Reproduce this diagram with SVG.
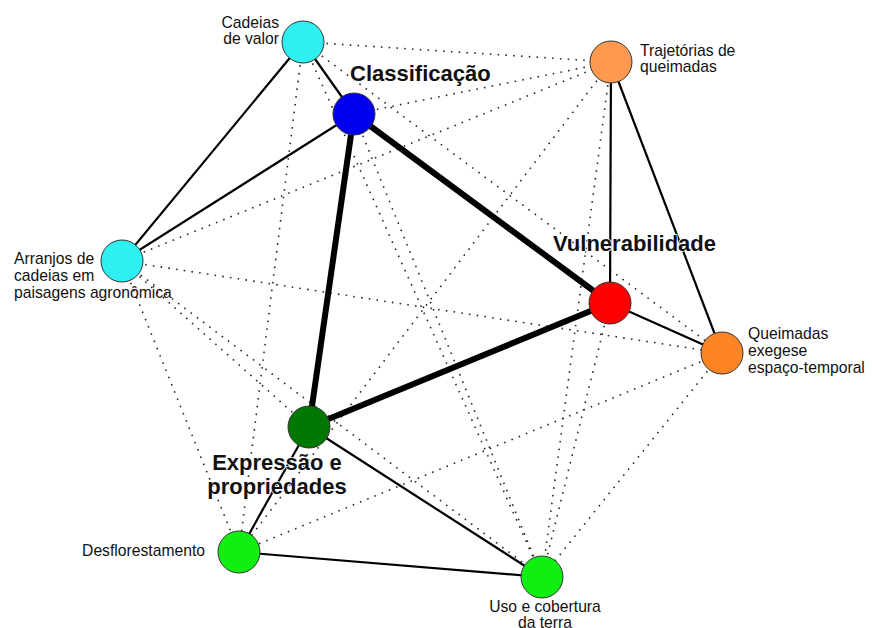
<svg xmlns="http://www.w3.org/2000/svg" width="872" height="628" viewBox="0 0 872 628">
<style>
.bg{fill:#ffffff}
.dot{stroke:#2a2a2a;stroke-width:1.6;stroke-dasharray:1.6 6.2;fill:none}
.thin{stroke:#000000;stroke-width:2.2;fill:none}
.thick{stroke:#000000;stroke-width:6;fill:none}
.node{stroke:#333333;stroke-width:1}
.lbl{font-family:"Liberation Sans",Arial,sans-serif;font-size:15.7px;fill:#111111}
.big{font-family:"Liberation Sans",Arial,sans-serif;font-size:22px;font-weight:bold;fill:#111111;stroke:#ffffff;stroke-width:1.5;paint-order:stroke;stroke-linejoin:round}
</style>
<rect class="bg" x="0" y="0" width="872" height="628"/>
<g id="connectors">
  <line class="dot" x1="303" y1="42" x2="611" y2="62"/>
  <line class="dot" x1="303" y1="42" x2="722" y2="353"/>
  <line class="dot" x1="303" y1="42" x2="542" y2="577"/>
  <line class="dot" x1="303" y1="42" x2="239" y2="552"/>
  <line class="dot" x1="354" y1="114" x2="611" y2="62"/>
  <line class="dot" x1="354" y1="114" x2="542" y2="577"/>
  <line class="dot" x1="122" y1="261" x2="611" y2="62"/>
  <line class="dot" x1="122" y1="261" x2="722" y2="353"/>
  <line class="dot" x1="122" y1="261" x2="309" y2="427"/>
  <line class="dot" x1="122" y1="261" x2="542" y2="577"/>
  <line class="dot" x1="122" y1="261" x2="239" y2="552"/>
  <line class="dot" x1="611" y1="62" x2="239" y2="552"/>
  <line class="dot" x1="611" y1="62" x2="542" y2="577"/>
  <line class="dot" x1="610" y1="303" x2="542" y2="577"/>
  <line class="dot" x1="722" y1="353" x2="542" y2="577"/>
  <line class="dot" x1="722" y1="353" x2="239" y2="552"/>
  <line class="thin" x1="303" y1="42" x2="122" y2="261"/>
  <line class="thin" x1="303" y1="42" x2="354" y2="114"/>
  <line class="thin" x1="354" y1="114" x2="122" y2="261"/>
  <line class="thin" x1="611" y1="62" x2="610" y2="303"/>
  <line class="thin" x1="611" y1="62" x2="722" y2="353"/>
  <line class="thin" x1="610" y1="303" x2="722" y2="353"/>
  <line class="thin" x1="309" y1="427" x2="239" y2="552"/>
  <line class="thin" x1="309" y1="427" x2="542" y2="577"/>
  <line class="thin" x1="239" y1="552" x2="542" y2="577"/>
  <line class="thick" x1="354" y1="114" x2="610" y2="303"/>
  <line class="thick" x1="354" y1="114" x2="309" y2="427"/>
  <line class="thick" x1="309" y1="427" x2="610" y2="303"/>
</g>
<g id="node-cadeias">
  <circle class="node" cx="303" cy="42" r="21" fill="#2ef0f0"/>
  <text class="lbl" x="279" y="28" text-anchor="end">Cadeias</text>
  <text class="lbl" x="279" y="44" text-anchor="end">de valor</text>
</g>
<g id="node-trajetorias">
  <circle class="node" cx="611" cy="62" r="21" fill="#ff9950"/>
  <text class="lbl" x="640" y="56">Trajetórias de</text>
  <text class="lbl" x="640" y="72">queimadas</text>
</g>
<g id="node-classificacao">
  <circle class="node" cx="354" cy="114" r="21" fill="#0000ee"/>
  <text class="big" x="350" y="81">Classificação</text>
</g>
<g id="node-arranjos">
  <circle class="node" cx="122" cy="261" r="21" fill="#2ef0f0"/>
  <text class="lbl" x="14" y="264">Arranjos de</text>
  <text class="lbl" x="14" y="281">cadeias em</text>
  <text class="lbl" x="14" y="298">paisagens agronômica</text>
</g>
<g id="node-vulnerabilidade">
  <circle class="node" cx="610" cy="303" r="21" fill="#ff0000"/>
  <text class="big" x="553" y="251">Vulnerabilidade</text>
</g>
<g id="node-queimadas">
  <circle class="node" cx="722" cy="353" r="21" fill="#ff8426"/>
  <text class="lbl" x="748" y="339">Queimadas</text>
  <text class="lbl" x="748" y="356">exegese</text>
  <text class="lbl" x="748" y="373">espaço-temporal</text>
</g>
<g id="node-expressao">
  <circle class="node" cx="309" cy="427" r="21" fill="#007700"/>
  <text class="big" x="277" y="470" text-anchor="middle">Expressão e</text>
  <text class="big" x="277" y="494" text-anchor="middle">propriedades</text>
</g>
<g id="node-desflorestamento">
  <circle class="node" cx="239" cy="552" r="21" fill="#11ee11"/>
  <text class="lbl" x="205" y="556" text-anchor="end">Desflorestamento</text>
</g>
<g id="node-uso">
  <circle class="node" cx="542" cy="577" r="21" fill="#11ee11"/>
  <text class="lbl" x="545" y="612" text-anchor="middle">Uso e cobertura</text>
  <text class="lbl" x="545" y="628" text-anchor="middle">da terra</text>
</g>
</svg>
